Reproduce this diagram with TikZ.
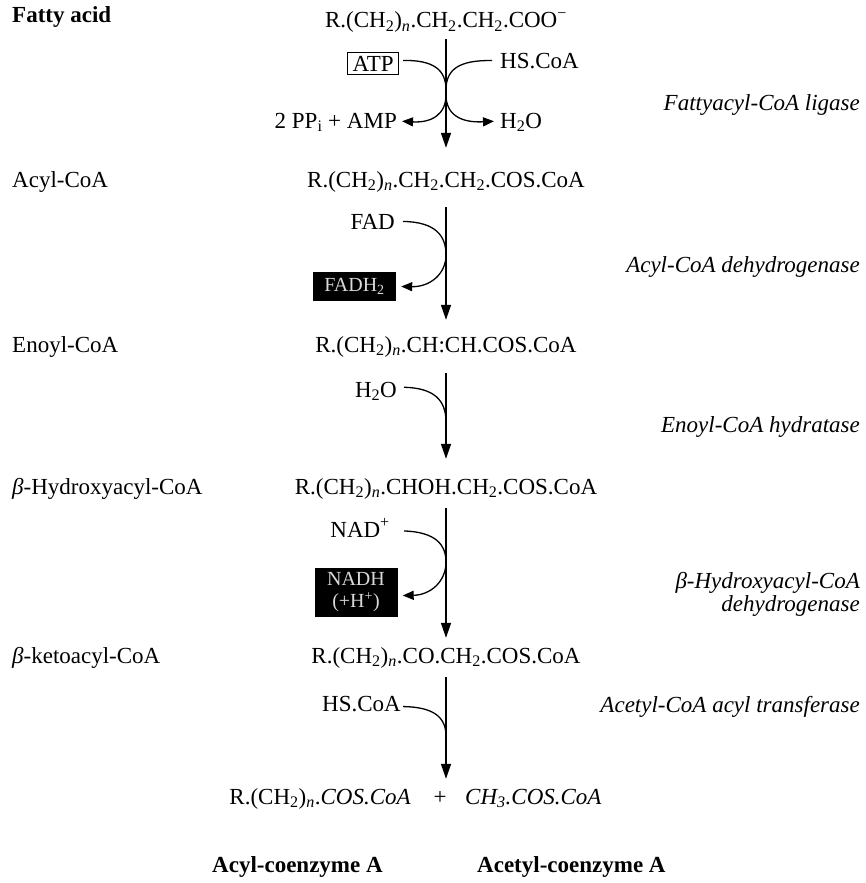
\documentclass[tikz,border=0pt]{standalone}
\usepackage{fontspec}
\setmainfont{Liberation Serif}
\usetikzlibrary{arrows.meta}
\begin{document}
\begin{tikzpicture}[x=1pt,y=-1pt,
  txt/.style={inner sep=0pt, anchor=base, font=\fontsize{23}{23}\selectfont},
  cmpd/.style={txt, text height=17pt, text depth=6pt},
  lbl/.style={txt, anchor=base west},
  boldlbl/.style={lbl, font=\fontsize{23}{23}\selectfont\bfseries},
  enz/.style={txt, anchor=base east, font=\fontsize{23}{23}\selectfont\itshape},
  flow/.style={line width=1.5pt, -{Triangle[length=15pt,width=10pt]}},
  side/.style={line width=1.3pt},
  sidearr/.style={side, -{Triangle[length=11pt,width=9pt]}},
  blackbox/.style={fill=black, text=white!85!black, inner sep=0pt,
    minimum width=83pt, align=center, font=\fontsize{20}{22}\selectfont}
]
\useasboundingbox (0,0) rectangle (866,883);

% names of the intermediates (left column)
\node[boldlbl] (nFA) at (12,23) {Fatty acid};
\node[lbl] (nAcyl) at (12,187) {Acyl-CoA};
\node[lbl] (nEnoyl) at (12,352) {Enoyl-CoA};
\node[lbl] (nHyd) at (12,494) {\textit{β}-Hydroxyacyl-CoA};
\node[lbl] (nKeto) at (12,663) {\textit{β}-ketoacyl-CoA};

% formulae (centre column)
\node[cmpd] (c1) at (446,28) {R.(CH\textsubscript{2})\textsubscript{\textit{n}}.CH\textsubscript{2}.CH\textsubscript{2}.COO\textsuperscript{−}};
\node[cmpd] (c2) at (446,187) {R.(CH\textsubscript{2})\textsubscript{\textit{n}}.CH\textsubscript{2}.CH\textsubscript{2}.COS.CoA};
\node[cmpd] (c3) at (446,352) {R.(CH\textsubscript{2})\textsubscript{\textit{n}}.CH:CH.COS.CoA};
\node[cmpd] (c4) at (446,494) {R.(CH\textsubscript{2})\textsubscript{\textit{n}}.CHOH.CH\textsubscript{2}.COS.CoA};
\node[cmpd] (c5) at (446,663) {R.(CH\textsubscript{2})\textsubscript{\textit{n}}.CO.CH\textsubscript{2}.COS.CoA};

% products
\node[txt] (plus) at (440,804) {+};
\node[txt, anchor=base east] (prodA) at (411,804) {R.(CH\textsubscript{2})\textsubscript{\textit{n}}.\textit{COS.CoA}};
\node[txt, anchor=base west] (prodB) at (465,804) {\textit{CH\textsubscript{3}.COS.CoA}};
\node[boldlbl] (nameA) at (212,872) {Acyl-coenzyme A};
\node[boldlbl] (nameB) at (477,872) {Acetyl-coenzyme A};

% enzymes (right column)
\node[enz] (e1) at (860,110) {Fattyacyl-CoA ligase};
\node[enz] (e2) at (860,272) {Acyl-CoA dehydrogenase};
\node[enz] (e3) at (860,432) {Enoyl-CoA hydratase};
\node[enz] (e4a) at (860,588) {\textit{β}-Hydroxyacyl-CoA};
\node[enz] (e4b) at (860,611) {dehydrogenase};
\node[enz] (e5) at (860,712) {Acetyl-CoA acyl transferase};

% main chain
\draw[flow, shorten <=5pt, shorten >=22pt] (c1.south) -- (c2.north);
\draw[flow, shorten <=14pt, shorten >=15pt] (c2.south) -- (c3.north);
\draw[flow, shorten <=15pt, shorten >=18pt] (c3.south) -- (c4.north);
\draw[flow, shorten <=8pt, shorten >=8pt] (c4.south) -- (c5.north);
\draw[flow, shorten <=8pt, shorten >=12pt] (c5.south) -- (c5.south |- plus.north);

% step 1: activation
\node[txt, draw, line width=0.8pt, inner xsep=5pt, inner ysep=3pt, anchor=base east] (atp) at (399,71) {ATP};
\node[lbl] (hs1) at (500,68) {HS.CoA};
\node[txt, anchor=base east] (ppi) at (397,128) {2 PP\textsubscript{i} + AMP};
\node[lbl] (h2oa) at (500,128) {H\textsubscript{2}O};
\coordinate (j1) at (446,90);
\coordinate (j2) at (446,95);
\draw[side] ([xshift=4pt,yshift=3pt]atp.east) .. controls (434,60) and (446,70) .. (j1);
\draw[side] ([xshift=-8pt]hs1.west) .. controls (458,60) and (446,70) .. (j1);
\draw[sidearr] (j2) .. controls (446,114) and (432,123) .. ([xshift=5pt,yshift=1pt]ppi.east);
\draw[sidearr] (j2) .. controls (446,114) and (460,123) .. ([xshift=-6pt,yshift=1pt]h2oa.west);

% step 2: dehydrogenation
\node[txt, anchor=base east] (fad) at (395,229) {FAD};
\node[blackbox, minimum height=29pt] (fadh) at (354.5,286.5) {FADH\textsubscript{2}};
\coordinate (k1) at (446,255);
\draw[sidearr] ([xshift=8pt]fad.east) .. controls (436,222) and (446,236) .. (k1)
  .. controls (446,274) and (430,287) .. ([xshift=5pt]fadh.east);

% step 3: hydration
\node[txt, anchor=base east] (h2ob) at (397,397) {H\textsubscript{2}O};
\coordinate (k2) at (446,422);
\draw[side] ([xshift=7pt,yshift=4pt]h2ob.east) .. controls (434,388) and (446,400) .. (k2);

% step 4: second dehydrogenation
\node[txt, anchor=base east] (nad) at (390,537) {NAD\textsuperscript{+}};
\node[blackbox, minimum height=49pt] (nadh) at (356,592.5) {NADH\\(+H\textsuperscript{+})};
\coordinate (k3) at (446,562);
\draw[sidearr] ([xshift=14pt,yshift=-3pt]nad.east) .. controls (436,532) and (446,545) .. (k3)
  .. controls (446,582) and (430,595) .. ([xshift=5pt,yshift=-3pt]nadh.east);

% step 5: thiolysis
\node[txt, anchor=base east] (hs2) at (401,711) {HS.CoA};
\coordinate (k4) at (446,736);
\draw[side] ([xshift=2pt,yshift=-3pt]hs2.east) .. controls (432,707) and (446,716) .. (k4);
\end{tikzpicture}
\end{document}
